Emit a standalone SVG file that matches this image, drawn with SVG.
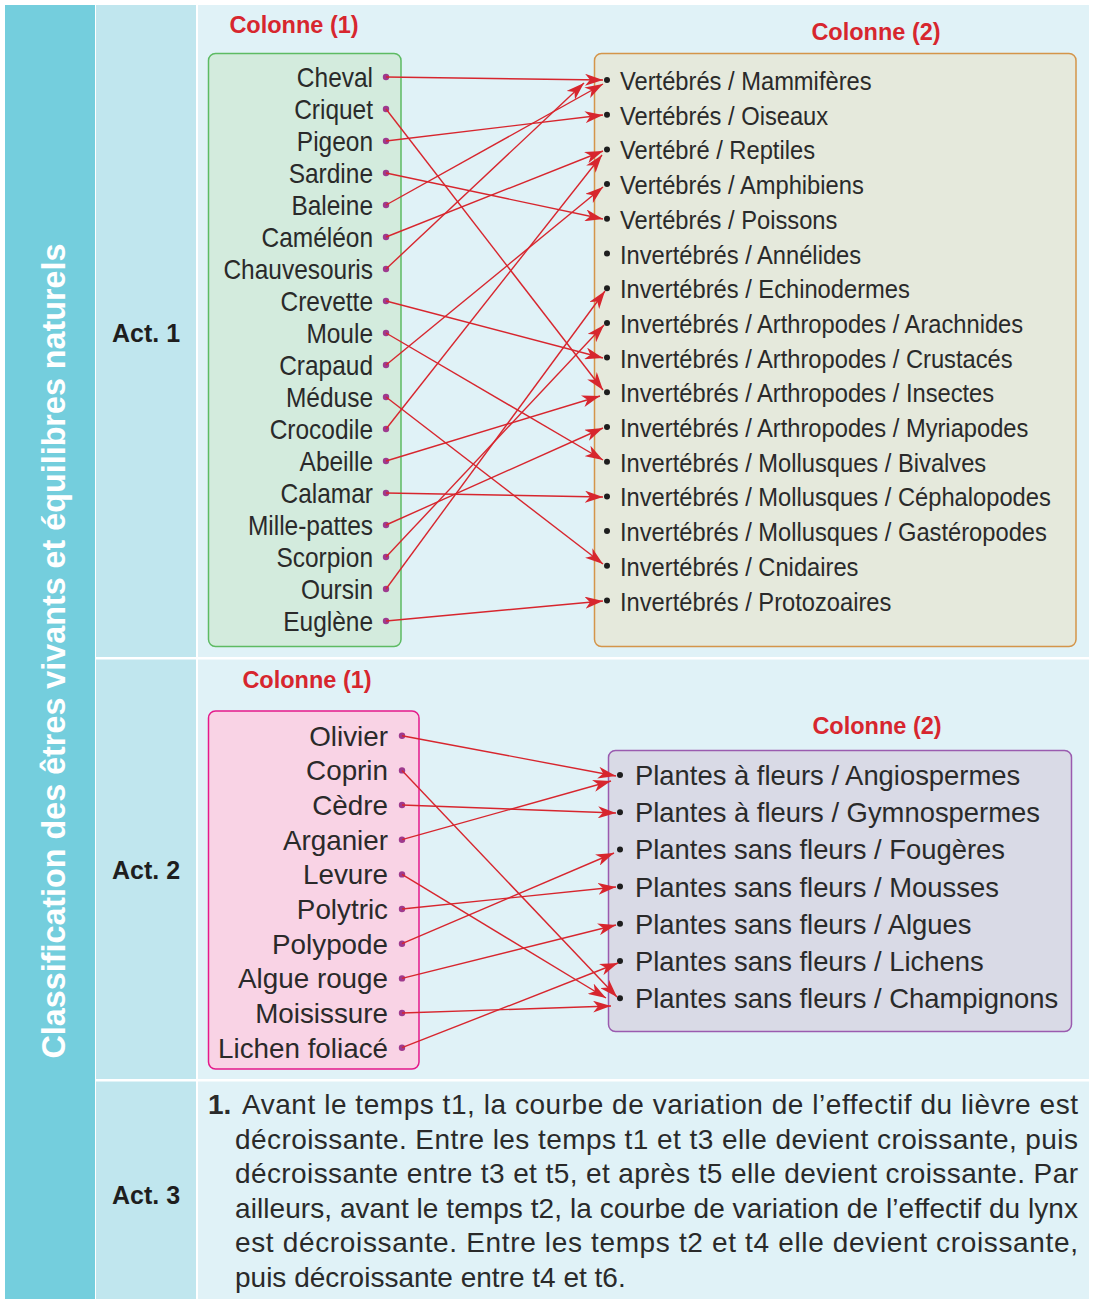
<svg xmlns="http://www.w3.org/2000/svg" width="1095" height="1299" viewBox="0 0 1095 1299">
<style>
.t{font-family:"Liberation Sans",Arial,sans-serif;fill:#2a2a2a}
.l1{font-size:27.5px;text-anchor:end}
.r1{font-size:25.5px}
.l2{font-size:27.8px;text-anchor:end}
.r2{font-size:27.4px}
.col{font-family:"Liberation Sans",Arial,sans-serif;font-weight:bold;font-size:23.5px;fill:#D7262E;text-anchor:middle}
.act{font-family:"Liberation Sans",Arial,sans-serif;font-weight:bold;font-size:25px;fill:#1e1e1e;text-anchor:middle}
.p{font-family:"Liberation Sans",Arial,sans-serif;font-size:28px;fill:#2a2a2a}
.ld{fill:#9E3A8E}
.rd{fill:#1e1e1e}
.c line{stroke:#D7262E;stroke-width:1.4;marker-end:url(#ah)}
</style>
<defs>
<marker id="ah" markerUnits="userSpaceOnUse" markerWidth="18" markerHeight="12" refX="18" refY="6" orient="auto">
<path d="M0,0 L18,6 L0,12 L5,6 Z" fill="#D7262E"/>
</marker>
</defs>
<rect x="0" y="0" width="1095" height="1299" fill="#ffffff"/>
<g id="frame">
<rect x="5" y="5" width="90" height="1294" fill="#74CEDD"/>
<rect x="96" y="5" width="100" height="1294" fill="#C0E6EE"/>
<rect x="198" y="5" width="891" height="1294" fill="#E0F2F7"/>
<rect x="96" y="657" width="993" height="2.5" fill="#ffffff"/>
<rect x="96" y="1079" width="993" height="2.5" fill="#ffffff"/>
<text transform="translate(65 651) rotate(-90)" font-family="Liberation Sans, Arial, sans-serif" font-weight="bold" font-size="32.3" fill="#ffffff" text-anchor="middle">Classification des êtres vivants et équilibres naturels</text>
<text class="act" x="146" y="342">Act. 1</text>
<text class="act" x="146" y="879">Act. 2</text>
<text class="act" x="146" y="1204">Act. 3</text>
</g>

<g id="act1">
<text class="col" x="294" y="33">Colonne (1)</text>
<text class="col" x="876" y="40">Colonne (2)</text>
<rect id="box1" x="208.5" y="53.5" width="192.5" height="593" rx="7" fill="#D3EBDD" stroke="#5DBB63" stroke-width="1.5"/>
<rect id="box2" x="594.5" y="53.5" width="481.5" height="593" rx="7" fill="#E5E9DC" stroke="#D4954A" stroke-width="1.5"/>
</g>

<g id="act1-left">
<g id="n-cheval"><text class="t l1" transform="translate(373 87) scale(0.89 1)">Cheval</text><circle class="ld" cx="386" cy="77" r="3.2"/></g>
<g id="n-criquet"><text class="t l1" transform="translate(373 119) scale(0.89 1)">Criquet</text><circle class="ld" cx="386" cy="109" r="3.2"/></g>
<g id="n-pigeon"><text class="t l1" transform="translate(373 151) scale(0.89 1)">Pigeon</text><circle class="ld" cx="386" cy="141" r="3.2"/></g>
<g id="n-sardine"><text class="t l1" transform="translate(373 183) scale(0.89 1)">Sardine</text><circle class="ld" cx="386" cy="173" r="3.2"/></g>
<g id="n-baleine"><text class="t l1" transform="translate(373 215) scale(0.89 1)">Baleine</text><circle class="ld" cx="386" cy="205" r="3.2"/></g>
<g id="n-cameleon"><text class="t l1" transform="translate(373 247) scale(0.89 1)">Caméléon</text><circle class="ld" cx="386" cy="237" r="3.2"/></g>
<g id="n-chauvesouris"><text class="t l1" transform="translate(373 279) scale(0.89 1)">Chauvesouris</text><circle class="ld" cx="386" cy="269" r="3.2"/></g>
<g id="n-crevette"><text class="t l1" transform="translate(373 311) scale(0.89 1)">Crevette</text><circle class="ld" cx="386" cy="301" r="3.2"/></g>
<g id="n-moule"><text class="t l1" transform="translate(373 343) scale(0.89 1)">Moule</text><circle class="ld" cx="386" cy="333" r="3.2"/></g>
<g id="n-crapaud"><text class="t l1" transform="translate(373 375) scale(0.89 1)">Crapaud</text><circle class="ld" cx="386" cy="365" r="3.2"/></g>
<g id="n-meduse"><text class="t l1" transform="translate(373 407) scale(0.89 1)">Méduse</text><circle class="ld" cx="386" cy="397" r="3.2"/></g>
<g id="n-crocodile"><text class="t l1" transform="translate(373 439) scale(0.89 1)">Crocodile</text><circle class="ld" cx="386" cy="429" r="3.2"/></g>
<g id="n-abeille"><text class="t l1" transform="translate(373 471) scale(0.89 1)">Abeille</text><circle class="ld" cx="386" cy="461" r="3.2"/></g>
<g id="n-calamar"><text class="t l1" transform="translate(373 503) scale(0.89 1)">Calamar</text><circle class="ld" cx="386" cy="493" r="3.2"/></g>
<g id="n-millepattes"><text class="t l1" transform="translate(373 535) scale(0.89 1)">Mille-pattes</text><circle class="ld" cx="386" cy="525" r="3.2"/></g>
<g id="n-scorpion"><text class="t l1" transform="translate(373 567) scale(0.89 1)">Scorpion</text><circle class="ld" cx="386" cy="557" r="3.2"/></g>
<g id="n-oursin"><text class="t l1" transform="translate(373 599) scale(0.89 1)">Oursin</text><circle class="ld" cx="386" cy="589" r="3.2"/></g>
<g id="n-euglene"><text class="t l1" transform="translate(373 631) scale(0.89 1)">Euglène</text><circle class="ld" cx="386" cy="621" r="3.2"/></g>
</g>

<g id="act1-right">
<g id="n-mammiferes"><circle class="rd" cx="607" cy="80" r="3"/><text class="t r1" transform="translate(620 90) scale(0.93 1)">Vertébrés / Mammifères</text></g>
<g id="n-oiseaux"><circle class="rd" cx="607" cy="114.7" r="3"/><text class="t r1" transform="translate(620 124.7) scale(0.93 1)">Vertébrés / Oiseaux</text></g>
<g id="n-reptiles"><circle class="rd" cx="607" cy="149.4" r="3"/><text class="t r1" transform="translate(620 159.4) scale(0.93 1)">Vertébré / Reptiles</text></g>
<g id="n-amphibiens"><circle class="rd" cx="607" cy="184.1" r="3"/><text class="t r1" transform="translate(620 194.1) scale(0.93 1)">Vertébrés / Amphibiens</text></g>
<g id="n-poissons"><circle class="rd" cx="607" cy="218.8" r="3"/><text class="t r1" transform="translate(620 228.8) scale(0.93 1)">Vertébrés / Poissons</text></g>
<g id="n-annelides"><circle class="rd" cx="607" cy="253.5" r="3"/><text class="t r1" transform="translate(620 263.5) scale(0.93 1)">Invertébrés / Annélides</text></g>
<g id="n-echinodermes"><circle class="rd" cx="607" cy="288.2" r="3"/><text class="t r1" transform="translate(620 298.2) scale(0.93 1)">Invertébrés / Echinodermes</text></g>
<g id="n-arachnides"><circle class="rd" cx="607" cy="322.9" r="3"/><text class="t r1" transform="translate(620 332.9) scale(0.93 1)">Invertébrés / Arthropodes / Arachnides</text></g>
<g id="n-crustaces"><circle class="rd" cx="607" cy="357.6" r="3"/><text class="t r1" transform="translate(620 367.6) scale(0.93 1)">Invertébrés / Arthropodes / Crustacés</text></g>
<g id="n-insectes"><circle class="rd" cx="607" cy="392.3" r="3"/><text class="t r1" transform="translate(620 402.3) scale(0.93 1)">Invertébrés / Arthropodes / Insectes</text></g>
<g id="n-myriapodes"><circle class="rd" cx="607" cy="427" r="3"/><text class="t r1" transform="translate(620 437) scale(0.93 1)">Invertébrés / Arthropodes / Myriapodes</text></g>
<g id="n-bivalves"><circle class="rd" cx="607" cy="461.7" r="3"/><text class="t r1" transform="translate(620 471.7) scale(0.93 1)">Invertébrés / Mollusques / Bivalves</text></g>
<g id="n-cephalopodes"><circle class="rd" cx="607" cy="496.4" r="3"/><text class="t r1" transform="translate(620 506.4) scale(0.93 1)">Invertébrés / Mollusques / Céphalopodes</text></g>
<g id="n-gasteropodes"><circle class="rd" cx="607" cy="531.1" r="3"/><text class="t r1" transform="translate(620 541.1) scale(0.93 1)">Invertébrés / Mollusques / Gastéropodes</text></g>
<g id="n-cnidaires"><circle class="rd" cx="607" cy="565.8" r="3"/><text class="t r1" transform="translate(620 575.8) scale(0.93 1)">Invertébrés / Cnidaires</text></g>
<g id="n-protozoaires"><circle class="rd" cx="607" cy="600.5" r="3"/><text class="t r1" transform="translate(620 610.5) scale(0.93 1)">Invertébrés / Protozoaires</text></g>
</g>

<g id="act2">
<text class="col" x="307" y="688">Colonne (1)</text>
<text class="col" x="877" y="734">Colonne (2)</text>
<rect id="box3" x="208.5" y="711" width="210.5" height="358" rx="7" fill="#F9D3E5" stroke="#E5198A" stroke-width="1.5"/>
<rect id="box4" x="608.5" y="750.5" width="463" height="281" rx="7" fill="#D9DAE6" stroke="#9A5BAF" stroke-width="1.5"/>
</g>

<g id="act2-left">
<g id="n-olivier"><text class="t l2" x="388" y="746">Olivier</text><circle class="ld" cx="402" cy="735.7" r="3.2"/></g>
<g id="n-coprin"><text class="t l2" x="388" y="780.4">Coprin</text><circle class="ld" cx="402" cy="770.4" r="3.2"/></g>
<g id="n-cedre"><text class="t l2" x="388" y="815">Cèdre</text><circle class="ld" cx="402" cy="805" r="3.2"/></g>
<g id="n-arganier"><text class="t l2" x="388" y="849.7">Arganier</text><circle class="ld" cx="402" cy="839.7" r="3.2"/></g>
<g id="n-levure"><text class="t l2" x="388" y="884.4">Levure</text><circle class="ld" cx="402" cy="874.4" r="3.2"/></g>
<g id="n-polytric"><text class="t l2" x="388" y="919">Polytric</text><circle class="ld" cx="402" cy="909" r="3.2"/></g>
<g id="n-polypode"><text class="t l2" x="388" y="953.7">Polypode</text><circle class="ld" cx="402" cy="943.7" r="3.2"/></g>
<g id="n-alguerouge"><text class="t l2" x="388" y="988.4">Algue rouge</text><circle class="ld" cx="402" cy="978.4" r="3.2"/></g>
<g id="n-moisissure"><text class="t l2" x="388" y="1023">Moisissure</text><circle class="ld" cx="402" cy="1013" r="3.2"/></g>
<g id="n-lichen"><text class="t l2" x="388" y="1057.7">Lichen foliacé</text><circle class="ld" cx="402" cy="1047.7" r="3.2"/></g>
</g>

<g id="act2-right">
<g id="n-angiospermes"><circle class="rd" cx="620" cy="775" r="3"/><text class="t r2" x="635" y="785">Plantes à fleurs / Angiospermes</text></g>
<g id="n-gymnospermes"><circle class="rd" cx="620" cy="812.2" r="3"/><text class="t r2" x="635" y="822.2">Plantes à fleurs / Gymnospermes</text></g>
<g id="n-fougeres"><circle class="rd" cx="620" cy="849.4" r="3"/><text class="t r2" x="635" y="859.4">Plantes sans fleurs / Fougères</text></g>
<g id="n-mousses"><circle class="rd" cx="620" cy="886.6" r="3"/><text class="t r2" x="635" y="896.6">Plantes sans fleurs / Mousses</text></g>
<g id="n-algues"><circle class="rd" cx="620" cy="923.8" r="3"/><text class="t r2" x="635" y="933.8">Plantes sans fleurs / Algues</text></g>
<g id="n-lichens"><circle class="rd" cx="620" cy="961" r="3"/><text class="t r2" x="635" y="971">Plantes sans fleurs / Lichens</text></g>
<g id="n-champignons"><circle class="rd" cx="620" cy="998.2" r="3"/><text class="t r2" x="635" y="1008.2">Plantes sans fleurs / Champignons</text></g>
</g>

<g id="connectors" class="c">
<line x1="386" y1="77" x2="603" y2="80"/>
<line x1="386" y1="109" x2="603" y2="390"/>
<line x1="386" y1="141" x2="603" y2="115"/>
<line x1="386" y1="173" x2="603" y2="219"/>
<line x1="386" y1="205" x2="603" y2="84"/>
<line x1="386" y1="237" x2="603" y2="151"/>
<line x1="386" y1="269" x2="584" y2="83"/>
<line x1="386" y1="301" x2="603" y2="358"/>
<line x1="386" y1="333" x2="603" y2="460"/>
<line x1="386" y1="365" x2="603" y2="187"/>
<line x1="386" y1="397" x2="603" y2="564"/>
<line x1="386" y1="429" x2="602" y2="155"/>
<line x1="386" y1="461" x2="600" y2="396"/>
<line x1="386" y1="493" x2="603" y2="497"/>
<line x1="386" y1="525" x2="603" y2="428"/>
<line x1="386" y1="557" x2="604" y2="325"/>
<line x1="386" y1="589" x2="605" y2="291"/>
<line x1="386" y1="621" x2="603" y2="601"/>
<line x1="402" y1="735.7" x2="616" y2="776"/>
<line x1="402" y1="770.4" x2="617" y2="997"/>
<line x1="402" y1="805" x2="616" y2="813"/>
<line x1="402" y1="839.7" x2="611" y2="781"/>
<line x1="402" y1="874.4" x2="606" y2="998"/>
<line x1="402" y1="909" x2="616" y2="887"/>
<line x1="402" y1="943.7" x2="614" y2="853"/>
<line x1="402" y1="978.4" x2="616" y2="925"/>
<line x1="402" y1="1013" x2="611" y2="1006"/>
<line x1="402" y1="1047.7" x2="618" y2="963"/>
</g>

<g id="act3">
<text class="p" x="208" y="1114" font-weight="bold">1.</text>
<text class="p" x="242" y="1114" textLength="836" lengthAdjust="spacing">Avant le temps t1, la courbe de variation de l’effectif du lièvre est</text>
<text class="p" x="235" y="1148.6" textLength="843" lengthAdjust="spacing">décroissante. Entre les temps t1 et t3 elle devient croissante, puis</text>
<text class="p" x="235" y="1183.2" textLength="843" lengthAdjust="spacing">décroissante entre t3 et t5, et après t5 elle devient croissante. Par</text>
<text class="p" x="235" y="1217.8" textLength="843" lengthAdjust="spacing">ailleurs, avant le temps t2, la courbe de variation de l’effectif du lynx</text>
<text class="p" x="235" y="1252.4" textLength="843" lengthAdjust="spacing">est décroissante. Entre les temps t2 et t4 elle devient croissante,</text>
<text class="p" x="235" y="1287">puis décroissante entre t4 et t6.</text>
</g>
</svg>
